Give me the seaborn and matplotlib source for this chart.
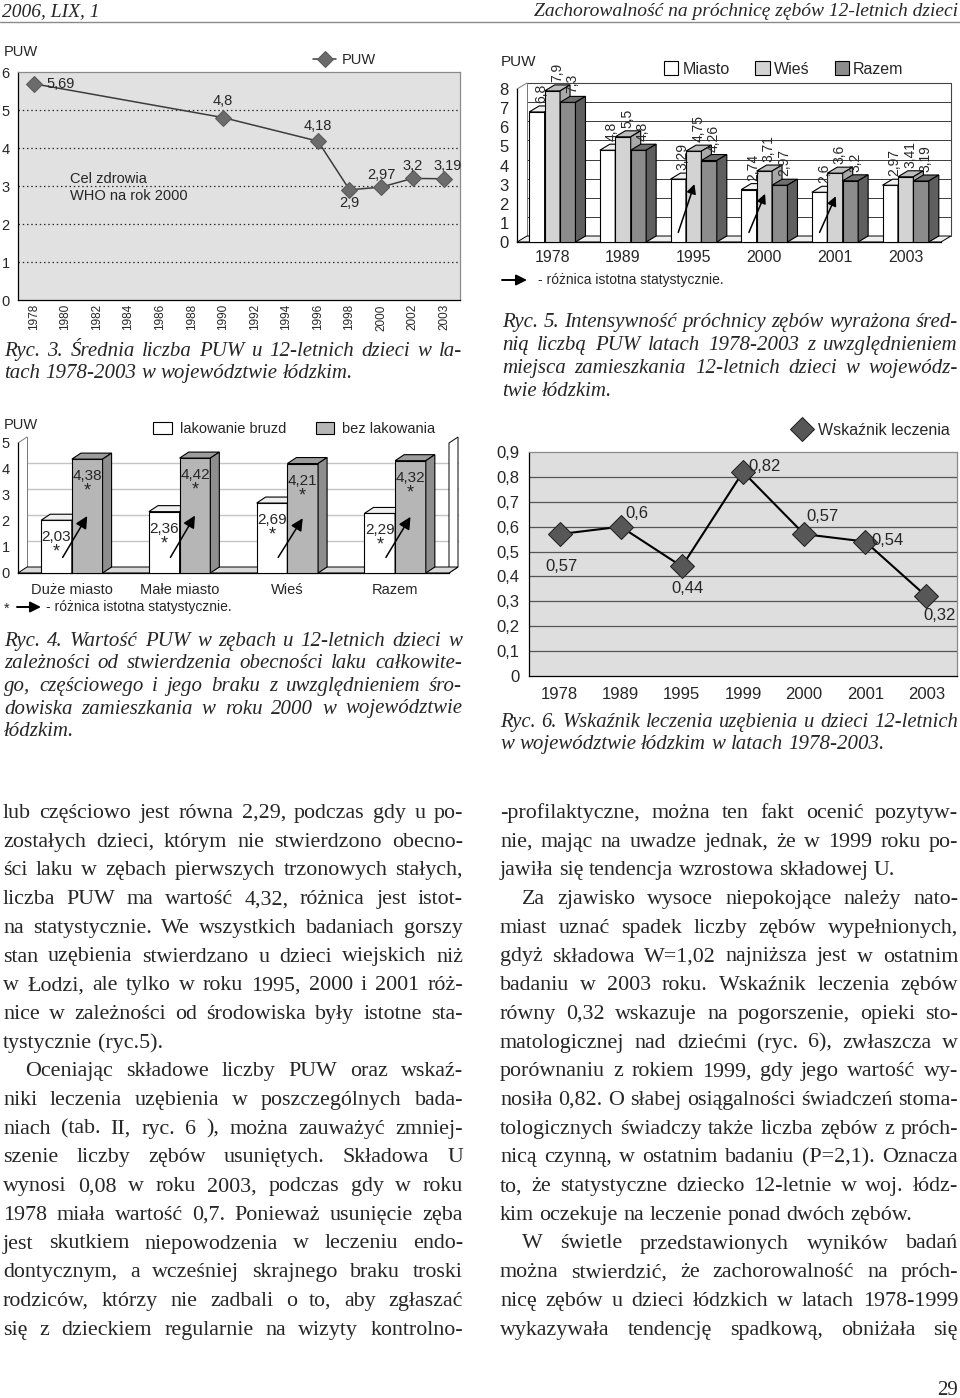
import numpy as np
import pandas as pd
import matplotlib
matplotlib.use('Agg')
import matplotlib.pyplot as plt
import matplotlib.transforms as mtrans
from matplotlib.patches import Polygon, Patch
from matplotlib.font_manager import FontProperties, findfont
import seaborn as sns

# ---------------- data ----------------
ryc3_axis_years = ['1978', '1980', '1982', '1984', '1986', '1988', '1990',
                   '1992', '1994', '1996', '1998', '2000', '2002', '2003']
ryc3_years = ['1978', '1990', '1996', '1998', '2000', '2002', '2003']
ryc3_puw = [5.69, 4.8, 4.18, 2.9, 2.97, 3.2, 3.19]
ryc3_yticks = [0, 1, 2, 3, 4, 5, 6]

ryc5_years = ['1978', '1989', '1995', '2000', '2001', '2003']
ryc5_series = ['Miasto', 'Wieś', 'Razem']
ryc5_miasto = [6.8, 4.8, 3.29, 2.74, 2.6, 2.97]
ryc5_wies = [7.9, 5.5, 4.75, 3.71, 3.6, 3.41]
ryc5_razem = [7.3, 4.8, 4.26, 2.97, 3.2, 3.19]
ryc5_signif = ['1995', '2000', '2001']
ryc5_yticks = [0, 1, 2, 3, 4, 5, 6, 7, 8]

ryc4_groups = ['Duże miasto', 'Małe miasto', 'Wieś', 'Razem']
ryc4_series = ['lakowanie bruzd', 'bez lakowania']
ryc4_lak = [2.03, 2.36, 2.69, 2.29]
ryc4_bez = [4.38, 4.42, 4.21, 4.32]
ryc4_yticks = [0, 1, 2, 3, 4, 5]

ryc6_years = ['1978', '1989', '1995', '1999', '2000', '2001', '2003']
ryc6_wsk = [0.57, 0.6, 0.44, 0.82, 0.57, 0.54, 0.32]
ryc6_yticks = [0, 0.1, 0.2, 0.3, 0.4, 0.5, 0.6, 0.7, 0.8, 0.9]

header_left = '2006, LIX, 1'
header_right = 'Zachorowalność na próchnicę zębów 12-letnich dzieci'
page_no = '29'
signif_note = '- różnica istotna statystycznie.'

cap3 = ['Ryc. 3. Średnia liczba PUW u 12-letnich dzieci w la-',
        'tach 1978-2003 w województwie łódzkim.']
cap5 = ['Ryc. 5. Intensywność próchnicy zębów wyrażona śred-',
        'nią liczbą PUW latach 1978-2003 z uwzględnieniem',
        'miejsca zamieszkania 12-letnich dzieci w wojewódz-',
        'twie łódzkim.']
cap4 = ['Ryc. 4. Wartość PUW w zębach u 12-letnich dzieci w',
        'zależności od stwierdzenia obecności laku całkowite-',
        'go, częściowego i jego braku z uwzględnieniem śro-',
        'dowiska zamieszkania w roku 2000 w województwie',
        'łódzkim.']
cap6 = ['Ryc. 6. Wskaźnik leczenia uzębienia u dzieci 12-letnich',
        'w województwie łódzkim w latach 1978-2003.']

# (lines, indent first line, justify last line)
body_left = [
    (['lub częściowo jest równa 2,29, podczas gdy u po-',
      'zostałych dzieci, którym nie stwierdzono obecno-',
      'ści laku w zębach pierwszych trzonowych stałych,',
      'liczba PUW ma wartość 4,32, różnica jest istot-',
      'na statystycznie. We wszystkich badaniach gorszy',
      'stan uzębienia stwierdzano u dzieci wiejskich niż',
      'w Łodzi, ale tylko w roku 1995, 2000 i 2001 róż-',
      'nice w zależności od środowiska były istotne sta-',
      'tystycznie (ryc.5).'], False, False),
    (['Oceniając składowe liczby PUW oraz wskaź-',
      'niki leczenia uzębienia w poszczególnych bada-',
      'niach (tab. II, ryc. 6 ), można zauważyć zmniej-',
      'szenie liczby zębów usuniętych. Składowa U',
      'wynosi 0,08 w roku 2003, podczas gdy w roku',
      '1978 miała wartość 0,7. Ponieważ usunięcie zęba',
      'jest skutkiem niepowodzenia w leczeniu endo-',
      'dontycznym, a wcześniej skrajnego braku troski',
      'rodziców, którzy nie zadbali o to, aby zgłaszać',
      'się z dzieckiem regularnie na wizyty kontrolno-'], True, True),
]
body_right = [
    (['-profilaktyczne, można ten fakt ocenić pozytyw-',
      'nie, mając na uwadze jednak, że w 1999 roku po-',
      'jawiła się tendencja wzrostowa składowej U.'], False, False),
    (['Za zjawisko wysoce niepokojące należy nato-',
      'miast uznać spadek liczby zębów wypełnionych,',
      'gdyż składowa W=1,02 najniższa jest w ostatnim',
      'badaniu w 2003 roku. Wskaźnik leczenia zębów',
      'równy 0,32 wskazuje na pogorszenie, opieki sto-',
      'matologicznej nad dziećmi (ryc. 6), zwłaszcza w',
      'porównaniu z rokiem 1999, gdy jego wartość wy-',
      'nosiła 0,82. O słabej osiągalności świadczeń stoma-',
      'tologicznych świadczy także liczba zębów z próch-',
      'nicą czynną, w ostatnim badaniu (P=2,1). Oznacza',
      'to, że statystyczne dziecko 12-letnie w woj. łódz-',
      'kim oczekuje na leczenie ponad dwóch zębów.'], True, False),
    (['W świetle przedstawionych wyników badań',
      'można stwierdzić, że zachorowalność na próch-',
      'nicę zębów u dzieci łódzkich w latach 1978-1999',
      'wykazywała tendencję spadkową, obniżała się'], True, True),
]

# ---------------- setup ----------------
W, H, DPI = 960, 1398, 100
PT = 72.0 / DPI
sns.set_theme(style='white')
plt.rcParams['font.family'] = ['Liberation Sans', 'DejaVu Sans']
plt.rcParams['axes.linewidth'] = 0.9


def font_ok(name):
    try:
        findfont(FontProperties(family=name), fallback_to_default=False)
        return True
    except Exception:
        return False


if font_ok('Liberation Sans Narrow'):
    NARROW, NSC = 'Liberation Sans Narrow', 1.0
else:
    NARROW, NSC = 'Liberation Sans', 0.96
SERIF = ['Liberation Serif', 'DejaVu Serif']

fig = plt.figure(figsize=(W / DPI, H / DPI), dpi=DPI)
fig.patch.set_facecolor('white')


def ax_px(l, t, r, b):
    return fig.add_axes([l / W, 1 - b / H, (r - l) / W, (b - t) / H])


def fx(x):
    return x / W


def fy(y):
    return 1 - y / H


def fmt(v):
    return f'{v:g}'.replace('.', ',')


IDENT = mtrans.IdentityTransform()


def add_3d_faces(ax, containers, dx, dy, tops, sides, lw=0.8):
    bars = []
    for si, cont in enumerate(containers):
        for p in cont:
            bars.append((p, si))
    bars.sort(key=lambda b: b[0].get_x())
    for rank, (p, si) in enumerate(bars):
        z = 3 + rank * 0.1
        p.set_zorder(z)
        X0, Y0 = ax.transData.transform((p.get_x(), 0))
        X1, Y1 = ax.transData.transform((p.get_x() + p.get_width(), p.get_height()))
        top = [(X0, Y1), (X1, Y1), (X1 + dx, Y1 + dy), (X0 + dx, Y1 + dy)]
        side = [(X1, Y0), (X1 + dx, Y0 + dy), (X1 + dx, Y1 + dy), (X1, Y1)]
        ax.add_patch(Polygon(top, closed=True, transform=IDENT, fc=tops[si], ec='black',
                             lw=lw, zorder=z + 0.05, clip_on=False))
        ax.add_patch(Polygon(side, closed=True, transform=IDENT, fc=sides[si], ec='black',
                             lw=lw, zorder=z + 0.05, clip_on=False))


def box_walls(ax, dx, dy, ytop, grid, grid_color, floor_color, right_wall=False,
              top_line=True, grid_lw=0.7):
    off = mtrans.ScaledTranslation(dx / DPI, dy / DPI, fig.dpi_scale_trans)
    tr = ax.get_yaxis_transform() + off
    for v in grid:
        ax.plot([0, 1], [v, v], transform=tr, color=grid_color, lw=grid_lw, zorder=0.6,
                clip_on=False)
    if top_line:
        ax.plot([0, 1], [ytop, ytop], transform=tr, color='#444444', lw=0.8, zorder=0.6,
                clip_on=False)
    ax.plot([0, 0], [0, ytop], transform=tr, color='#777777', lw=0.7, zorder=0.6,
            clip_on=False)
    XL, Y0 = ax.transAxes.transform((0, 0))
    XR, YT = ax.transAxes.transform((1, 1))
    floor = [(XL, Y0), (XR, Y0), (XR + dx, Y0 + dy), (XL + dx, Y0 + dy)]
    ax.add_patch(Polygon(floor, closed=True, transform=IDENT, fc=floor_color, ec='black',
                         lw=0.7, zorder=1, clip_on=False))
    ax.plot([XL, XL + dx], [YT, YT + dy], transform=IDENT, color='#777777', lw=0.7,
            zorder=0.6, clip_on=False)
    if right_wall:
        wall = [(XR, Y0), (XR + dx, Y0 + dy), (XR + dx, YT + dy), (XR, YT)]
        ax.add_patch(Polygon(wall, closed=True, transform=IDENT, fc='white', ec='black',
                             lw=0.7, zorder=0.7, clip_on=False))
    else:
        ax.plot([XR + dx, XR + dx], [Y0 + dy, YT + dy], transform=IDENT, color='#444444',
                lw=0.8, zorder=0.6, clip_on=False)


def sig_arrow(ax, tail, head, coords='data', lw=1.1, ms=14):
    ax.annotate('', xy=head, xytext=tail, xycoords=coords, textcoords=coords,
                arrowprops=dict(arrowstyle='-|>', color='black', lw=lw, mutation_scale=ms,
                                shrinkA=0, shrinkB=0), zorder=20)


# ================= Ryc. 3 : line chart =================
ax1 = ax_px(18, 72, 460, 300)
ax1.set_facecolor('#e1e1e1')
x3 = [ryc3_axis_years.index(y) for y in ryc3_years]
df3 = pd.DataFrame({'poz': x3, 'PUW': ryc3_puw})
sns.lineplot(data=df3, x='poz', y='PUW', ax=ax1, color='#3c3c3c', linewidth=1.1,
             marker='D', markersize=8, markerfacecolor='#6b6b6b',
             markeredgecolor='#5a5a5a', label='PUW', zorder=5)
ax1.set_xlim(-0.5, len(ryc3_axis_years) - 0.5)
ax1.set_ylim(ryc3_yticks[0], ryc3_yticks[-1])
for v in ryc3_yticks[1:-1]:
    ax1.axhline(v, color='#2a2a2a', lw=0.9, ls=(0, (1.2, 2.2)), zorder=1)
ax1.set_yticks(ryc3_yticks)
ax1.set_yticklabels([str(v) for v in ryc3_yticks], fontsize=10.5)
ax1.set_xticks(range(len(ryc3_axis_years)))
ax1.set_xticklabels(ryc3_axis_years, rotation=90, fontsize=8.5)
ax1.set_xticks(np.arange(-0.5, len(ryc3_axis_years), 1), minor=True)
ax1.tick_params(axis='x', which='major', length=0, pad=3)
ax1.tick_params(axis='x', which='minor', length=7, width=0.9, color='black', direction='out')
ax1.tick_params(axis='y', length=4, width=0.9, color='black', direction='out', pad=2)
ax1.set_xlabel('')
ax1.set_ylabel('')
for s in ('left', 'bottom'):
    ax1.spines[s].set_color('black')
for s in ('top', 'right'):
    ax1.spines[s].set_color('#8a8a8a')
ryc3_lab_off = [(13, 0, 'left'), (0, 17, 'center'), (0, 15, 'center'), (0, -13, 'center'),
                (0, 12, 'center'), (0, 12, 'center'), (3, 13, 'center')]
for xi, v, (ox, oy, ha) in zip(x3, ryc3_puw, ryc3_lab_off):
    ax1.annotate(fmt(v), (xi, v), xytext=(ox * PT, oy * PT), textcoords='offset points',
                 ha=ha, va='center', fontsize=10.5, zorder=6)
h1, l1 = ax1.get_legend_handles_labels()
ax1.legend(h1, l1, loc='center left', bbox_to_anchor=(fx(313), fy(60)),
           bbox_transform=fig.transFigure, frameon=False, fontsize=10.5, handlelength=1.6,
           handletextpad=0.4, borderpad=0, borderaxespad=0)
fig.text(fx(4), fy(52), 'PUW', fontsize=10.5, va='center', ha='left')
fig.text(fx(70), fy(179), 'Cel zdrowia', fontsize=10.5, va='center', ha='left')
fig.text(fx(70), fy(196), 'WHO na rok 2000', fontsize=10.5, va='center', ha='left')

# ================= Ryc. 5 : 3D grouped bars =================
ax2 = ax_px(517, 89, 941, 242)
df5 = pd.DataFrame({'Rok': ryc5_years * 3,
                    'Seria': np.repeat(ryc5_series, len(ryc5_years)),
                    'PUW': ryc5_miasto + ryc5_wies + ryc5_razem})
pal5 = {'Miasto': '#ffffff', 'Wieś': '#d3d3d3', 'Razem': '#8c8c8c'}
top5 = ['#f0f0f0', '#bdbdbd', '#6f6f6f']
side5 = ['#d8d8d8', '#a9a9a9', '#5f5f5f']
sns.barplot(data=df5, x='Rok', y='PUW', hue='Seria', order=ryc5_years, hue_order=ryc5_series,
            palette=pal5, width=0.655, saturation=1, edgecolor='black', linewidth=0.8,
            errorbar=None, legend=False, ax=ax2)
ax2.set_xlim(-0.5, len(ryc5_years) - 0.5)
ax2.set_ylim(ryc5_yticks[0], ryc5_yticks[-1])
D2X, D2Y = 10, 6
box_walls(ax2, D2X, D2Y, ryc5_yticks[-1], ryc5_yticks[1:-1], '#3a3a3a', '#eeeeee')
add_3d_faces(ax2, ax2.containers, D2X, D2Y, top5, side5)
for cont in ax2.containers:
    for p in cont:
        hgt = p.get_height()
        ax2.annotate(fmt(hgt), (p.get_x() + p.get_width() / 2, hgt),
                     xytext=(D2X * 0.45 * PT, (D2Y + 3) * PT), textcoords='offset points',
                     rotation=90, ha='center', va='bottom', fontsize=10, zorder=20)
cm, cw = ax2.containers[0], ax2.containers[1]
for yr in ryc5_signif:
    i = ryc5_years.index(yr)
    pm, pw = cm[i], cw[i]
    sig_arrow(ax2, (pm.get_x() + pm.get_width() * 0.5, 0.5),
              (pw.get_x() + pw.get_width() * 0.55, 0.92 * pm.get_height()))
ax2.set_yticks(ryc5_yticks)
ax2.set_yticklabels([str(v) for v in ryc5_yticks], fontsize=12)
ax2.set_xticks(range(len(ryc5_years)))
ax2.set_xticklabels(ryc5_years, fontsize=11.5)
ax2.set_xticks(np.arange(-0.5, len(ryc5_years), 1), minor=True)
ax2.tick_params(axis='x', which='major', length=0, pad=6)
ax2.tick_params(axis='x', which='minor', length=4, width=0.8, color='#555555', direction='out')
ax2.tick_params(axis='y', length=4, width=0.9, color='black', direction='out', pad=2)
ax2.set_xlabel('')
ax2.set_ylabel('')
for s in ('top', 'right'):
    ax2.spines[s].set_visible(False)
for s in ('left', 'bottom'):
    ax2.spines[s].set_color('black')
ax2.set_facecolor('none')
hand5 = [Patch(facecolor=pal5[s], edgecolor='black', linewidth=0.8) for s in ryc5_series]
ax2.legend(hand5, ryc5_series, ncol=3, loc='center left', bbox_to_anchor=(fx(664), fy(69)),
           bbox_transform=fig.transFigure, frameon=False, fontsize=11.5, handlelength=0.9,
           handleheight=0.9, handletextpad=0.25, columnspacing=1.6, borderpad=0,
           borderaxespad=0)
fig.text(fx(501), fy(62), 'PUW', fontsize=11, va='center', ha='left')
sig_arrow(ax2, (fx(502), fy(280)), (fx(527), fy(280)), coords='figure fraction', lw=1.4, ms=16)
fig.text(fx(538), fy(280), signif_note, fontsize=10, va='center', ha='left')

# ================= Ryc. 4 : 3D paired bars =================
ax3 = ax_px(18, 443, 449, 573)
df4 = pd.DataFrame({'Grupa': ryc4_groups * 2,
                    'Seria': np.repeat(ryc4_series, len(ryc4_groups)),
                    'PUW': ryc4_lak + ryc4_bez})
pal4 = {'lakowanie bruzd': '#ffffff', 'bez lakowania': '#b6b6b6'}
top4 = ['#efefef', '#9c9c9c']
side4 = ['#dadada', '#8e8e8e']
sns.barplot(data=df4, x='Grupa', y='PUW', hue='Seria', order=ryc4_groups, hue_order=ryc4_series,
            palette=pal4, width=0.57, saturation=1, edgecolor='black', linewidth=0.8,
            errorbar=None, legend=False, ax=ax3)
ax3.set_xlim(-0.5, len(ryc4_groups) - 0.5)
ax3.set_ylim(ryc4_yticks[0], ryc4_yticks[-1])
D3X, D3Y = 9, 6
box_walls(ax3, D3X, D3Y, ryc4_yticks[-1], ryc4_yticks[1:-1], '#c4c4c4', '#d9d9d9',
          right_wall=True, top_line=False, grid_lw=1.0)
add_3d_faces(ax3, ax3.containers, D3X, D3Y, top4, side4)
for cont in ax3.containers:
    for p in cont:
        hgt = p.get_height()
        cx = p.get_x() + p.get_width() / 2
        ax3.annotate(fmt(hgt), (cx, hgt), xytext=(0, -17 * PT), textcoords='offset points',
                     ha='center', va='center', fontsize=11, zorder=20)
        ax3.annotate('*', (cx, hgt), xytext=(0, -32 * PT), textcoords='offset points',
                     ha='center', va='center', fontsize=13, zorder=20)
cl, cb = ax3.containers[0], ax3.containers[1]
for i in range(len(ryc4_groups)):
    pl, pb = cl[i], cb[i]
    sig_arrow(ax3, (pl.get_x() + pl.get_width() * 0.7, 0.6),
              (pb.get_x() + pb.get_width() * 0.5, 0.5 * pb.get_height()), lw=1.1, ms=18)
ax3.set_yticks(ryc4_yticks)
ax3.set_yticklabels([str(v) for v in ryc4_yticks], fontsize=10.5)
ax3.set_xticks(range(len(ryc4_groups)))
ax3.set_xticklabels(ryc4_groups, fontsize=10.5)
ax3.tick_params(axis='x', which='major', length=0, pad=7)
ax3.tick_params(axis='y', length=4, width=0.9, color='black', direction='out', pad=2)
ax3.set_xlabel('')
ax3.set_ylabel('')
for s in ('top', 'right'):
    ax3.spines[s].set_visible(False)
for s in ('left', 'bottom'):
    ax3.spines[s].set_color('black')
ax3.set_facecolor('none')
hand4 = [Patch(facecolor=pal4[s], edgecolor='black', linewidth=0.8) for s in ryc4_series]
ax3.legend(hand4, ryc4_series, ncol=2, loc='center left', bbox_to_anchor=(fx(153), fy(429)),
           bbox_transform=fig.transFigure, frameon=False, fontsize=10.5, handlelength=1.3,
           handleheight=0.8, handletextpad=0.55, columnspacing=2.0, borderpad=0,
           borderaxespad=0)
fig.text(fx(4), fy(425), 'PUW', fontsize=10.5, va='center', ha='left')
fig.text(fx(4), fy(609), '*', fontsize=10.5, va='center', ha='left')
sig_arrow(ax3, (fx(17), fy(607)), (fx(41), fy(607)), coords='figure fraction',
          lw=1.4, ms=16)
fig.text(fx(46), fy(607), signif_note, fontsize=10, va='center', ha='left')

# ================= Ryc. 6 : line chart (narrow font) =================
ax4 = ax_px(529, 452, 957, 676)
ax4.set_facecolor('#dedede')
df6 = pd.DataFrame({'poz': np.arange(len(ryc6_years)), 'Wskaźnik': ryc6_wsk})
sns.lineplot(data=df6, x='poz', y='Wskaźnik', ax=ax4, color='black', linewidth=1.5,
             marker='D', markersize=12, markerfacecolor='#575757', markeredgecolor='#222222',
             label='Wskaźnik leczenia', zorder=5)
ax4.set_xlim(-0.5, len(ryc6_years) - 0.5)
ax4.set_ylim(ryc6_yticks[0], ryc6_yticks[-1])
for v in ryc6_yticks[1:-1]:
    ax4.axhline(v, color='#555555', lw=0.9, zorder=1)
f6 = 12.5 * NSC
ax4.set_yticks(ryc6_yticks)
ax4.set_yticklabels([fmt(v) for v in ryc6_yticks], fontsize=f6, family=NARROW)
ax4.set_xticks(range(len(ryc6_years)))
ax4.set_xticklabels(ryc6_years, fontsize=f6, family=NARROW)
ax4.set_xticks(np.arange(-0.5, len(ryc6_years), 1), minor=True)
ax4.tick_params(axis='x', which='major', length=0, pad=8)
ax4.tick_params(axis='x', which='minor', length=6, width=0.9, color='black', direction='out')
ax4.tick_params(axis='y', length=5, width=0.9, color='black', direction='out', pad=2)
ax4.set_xlabel('')
ax4.set_ylabel('')
for s in ('left', 'bottom'):
    ax4.spines[s].set_color('black')
for s in ('top', 'right'):
    ax4.spines[s].set_color('#8a8a8a')
ryc6_lab_off = [(2, -32), (16, 13), (6, -22), (22, 5), (18, 18), (22, 1), (13, -19)]
for xi, v, (ox, oy) in zip(range(len(ryc6_years)), ryc6_wsk, ryc6_lab_off):
    ax4.annotate(fmt(v), (xi, v), xytext=(ox * PT, oy * PT), textcoords='offset points',
                 ha='center', va='center', fontsize=f6, family=NARROW, zorder=6)
h4, l4 = ax4.get_legend_handles_labels()
ax4.legend(h4, l4, loc='center left', bbox_to_anchor=(fx(792), fy(430)),
           bbox_transform=fig.transFigure, frameon=False, handlelength=1.3,
           handletextpad=0.3, borderpad=0, borderaxespad=0,
           prop=FontProperties(family=NARROW, size=min(f6, 11.5)))

# ================= page text =================
fig.canvas.draw()
R = fig.canvas.get_renderer()


def tw(s, fp):
    return R.get_text_width_height_descent(s, fp, ismath=False)[0]


def put_line(x0, x1, base_y, line, size, style='normal', justify=True):
    words = line.split()
    fp = FontProperties(family=SERIF, style=style, size=size)
    sp = tw('n n', fp) - tw('nn', fp)
    ws = [tw(w, fp) for w in words]
    avail = x1 - x0
    nat = sum(ws) + sp * (len(words) - 1)
    if nat > avail:
        size = size * avail / nat * 0.995
        fp = FontProperties(family=SERIF, style=style, size=size)
        sp = tw('n n', fp) - tw('nn', fp)
        ws = [tw(w, fp) for w in words]
    gap = (avail - sum(ws)) / (len(words) - 1) if (justify and len(words) > 1) else sp
    x = x0
    for w_, wd in zip(words, ws):
        fig.text(fx(x), fy(base_y), w_, fontproperties=fp, ha='left', va='baseline')
        x += wd + gap


def put_caption(lines, x0, x1, y0, step, size=15):
    for i, ln in enumerate(lines):
        put_line(x0, x1, y0 + i * step, ln, size, style='italic',
                 justify=(i < len(lines) - 1))


def put_column(paras, x0, x1, y0, step, size=15.8, indent=22):
    k = 0
    for lines, ind, just_last in paras:
        for i, ln in enumerate(lines):
            xs = x0 + (indent if (ind and i == 0) else 0)
            last = (i == len(lines) - 1)
            put_line(xs, x1, y0 + k * step, ln, size,
                     justify=(not last) or just_last)
            k += 1


# header
fig.text(fx(2), fy(16), header_left, family=SERIF, style='italic', fontsize=14,
         ha='left', va='baseline')
fig.text(fx(958), fy(16), header_right, family=SERIF, style='italic', fontsize=14,
         ha='right', va='baseline')
fig.add_artist(plt.Line2D([0, 1], [fy(22), fy(22)], transform=fig.transFigure,
                          color='#8a8a8a', lw=1))

put_caption(cap3, 4, 462, 356, 22)
put_caption(cap5, 502, 958, 327, 23)
put_caption(cap4, 4, 462, 646, 22.5)
put_caption(cap6, 500, 958, 727, 22)

put_column(body_left, 3, 463, 818, 28.7)
put_column(body_right, 500, 958, 818, 28.7)

fig.text(fx(958), fy(1395), page_no, family=SERIF, fontsize=15, ha='right', va='baseline')

fig.savefig('out.png', dpi=DPI)
